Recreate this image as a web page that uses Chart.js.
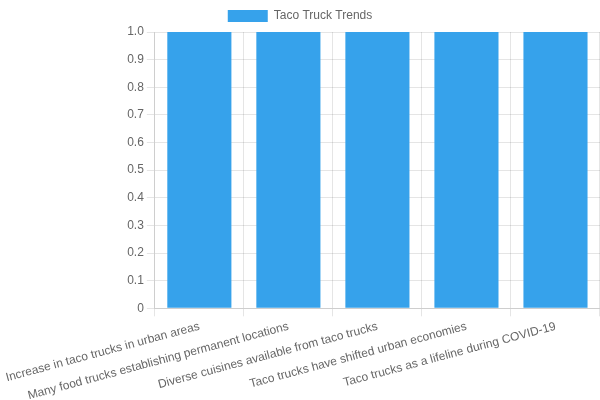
<!DOCTYPE html>
<html lang="en">
<head>
    <meta charset="utf-8">
    <title>Taco Truck Trends</title>
    <script src="https://cdn.jsdelivr.net/npm/chart.js@4.4.0/dist/chart.umd.min.js"></script>
    <style>
        html, body { margin: 0; padding: 0; background: #fff; }
        #wrap { width: 600px; height: 400px; }
    </style>
</head>
<body>
<div id="wrap"><canvas id="chart"></canvas></div>
<script>
var categories = [
    'Increase in taco trucks in urban areas',
    'Many food trucks establishing permanent locations',
    'Diverse cuisines available from taco trucks',
    'Taco trucks have shifted urban economies',
    'Taco trucks as a lifeline during COVID-19'
];
var seriesLabel = 'Taco Truck Trends';
var seriesValues = [1, 1, 1, 1, 1];

var ctx = document.getElementById('chart').getContext('2d');
var myChart = new Chart(ctx, {
    type: 'bar',
    data: {
        labels: categories,
        datasets: [{
            label: seriesLabel,
            data: seriesValues,
            backgroundColor: 'rgb(54, 162, 235)',
            borderColor: 'rgb(54, 162, 235)',
            borderWidth: 0
        }]
    },
    options: {
        responsive: true,
        maintainAspectRatio: false,
        animation: false,
        scales: {
            y: {
                beginAtZero: true,
                max: 1,
                ticks: { stepSize: 0.1 }
            },
            x: {
                ticks: { maxRotation: 15, minRotation: 15 },
                afterFit: function(scale) {
                    scale.height -= 6;
                }
            }
        }
    }
});
</script>
</body>
</html>
